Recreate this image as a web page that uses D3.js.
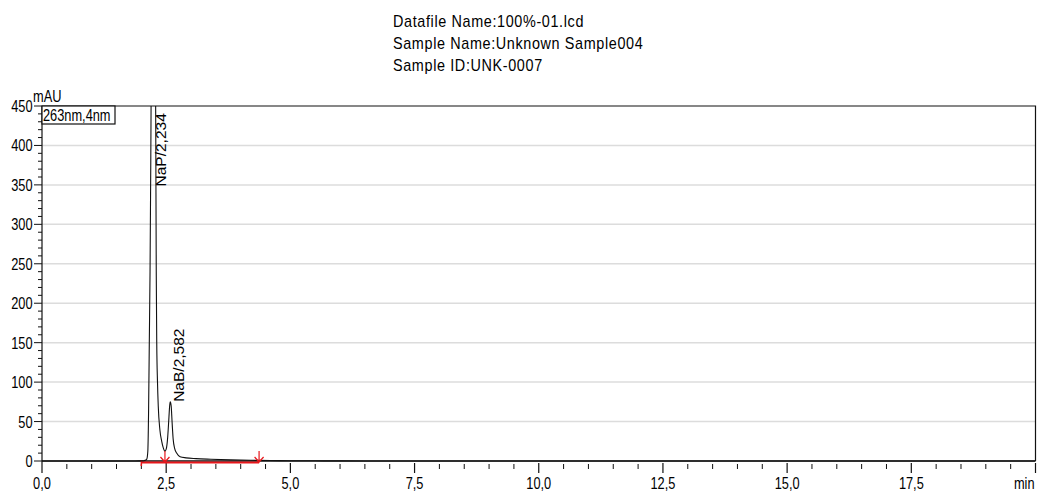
<!DOCTYPE html>
<html>
<head>
<meta charset="utf-8">
<script src="https://cdn.jsdelivr.net/npm/d3@7"></script>
<style>
  html, body { margin: 0; padding: 0; background: #fff; }
  svg { display: block; }
</style>
</head>
<body>
<svg id="chart" width="1041" height="491"></svg>
<script>
// Run header
const headerLines = [
  "Datafile Name:100%-01.lcd",
  "Sample Name:Unknown Sample004",
  "Sample ID:UNK-0007"
];
const channelLabel = "263nm,4nm";
const yUnit = "mAU";
const xUnit = "min";

// Axis ticks
const xTicks = [0, 2.5, 5, 7.5, 10, 12.5, 15, 17.5];
const xTickLabels = ["0,0", "2,5", "5,0", "7,5", "10,0", "12,5", "15,0", "17,5"];
const yTicks = [0, 50, 100, 150, 200, 250, 300, 350, 400, 450];
const yGrid = [50, 100, 150, 200, 250, 300, 350, 400];

// Detector trace (min, mAU)
const time = [0, 1.5, 1.95, 2.05, 2.09, 2.11, 2.13, 2.145, 2.16, 2.175, 2.19, 2.205, 2.234,
  2.26, 2.28, 2.29, 2.30, 2.31, 2.325, 2.34, 2.374, 2.41, 2.44, 2.475,
  2.50, 2.53, 2.555, 2.57, 2.582, 2.60, 2.62, 2.64, 2.67, 2.71, 2.78, 2.9, 3.1, 3.4,
  3.8, 4.2, 4.6, 5.0, 5.5, 6.0, 7.0, 10, 15, 20];
const absorbance = [0, 0, 0.1, 0.4, 1.2, 2.5, 12, 60, 150, 240, 380, 560, 1000,
  800, 560, 420, 240, 150, 100, 70, 39, 25, 17, 12.5,
  15, 30, 55, 70, 75, 70, 48, 28, 16, 10, 5.5, 4, 3, 2.2,
  1.4, 0.9, 0.6, 0.4, 0.25, 0.1, 0, 0, 0, 0];

// Identified peaks
const peakNames = ["NaP", "NaB"];
const peakTimes = [2.234, 2.582];
const peakLabelAt = [348, 75];

// Integration baseline and drop markers (min)
const baselineStart = 2.0;
const baselineEnd = 4.37;
const dropMarks = [2.475, 4.37];

const svg = d3.select("#chart");
const margin = { left: 42, right: 1035.5, top: 106, bottom: 461 };

const x = d3.scaleLinear().domain([0, 20]).range([margin.left, margin.right]);
const y = d3.scaleLinear().domain([0, 450]).range([margin.bottom, margin.top]);

const fmt = v => v.toFixed(3).replace(".", ",");
const font = "'Liberation Sans', Arial, sans-serif";
// Axis text is set in a condensed face: regular glyphs squeezed horizontally
const squeeze = 0.8;
const axisSize = 16;
const cond = (px, py) => `translate(${px},${py}) scale(${squeeze},1)`;

// Header
svg.append("g").selectAll("text").data(headerLines).join("text")
  .attr("transform", (d, i) => `translate(393,${27 + i * 22}) scale(0.9,1)`)
  .attr("font-family", font)
  .attr("font-size", 16)
  .attr("letter-spacing", 0.7)
  .attr("fill", "#000")
  .text(d => d);

// Grid
svg.append("g").selectAll("line").data(yGrid).join("line")
  .attr("x1", margin.left).attr("x2", margin.right)
  .attr("y1", d => y(d)).attr("y2", d => y(d))
  .attr("stroke", "#dcdcdc").attr("stroke-width", 1.5);

// Clip for trace
svg.append("clipPath").attr("id", "plot-clip")
  .append("rect")
  .attr("x", margin.left).attr("y", margin.top)
  .attr("width", margin.right - margin.left).attr("height", margin.bottom - margin.top + 1);

// Frame (top and right)
svg.append("path")
  .attr("d", `M${margin.left},${margin.top}H${margin.right}V${margin.bottom}`)
  .attr("fill", "none").attr("stroke", "#111").attr("stroke-width", 1.2);

// Y axis line and ticks
svg.append("line")
  .attr("x1", margin.left).attr("x2", margin.left)
  .attr("y1", margin.top).attr("y2", margin.bottom + 2)
  .attr("stroke", "#111").attr("stroke-width", 1.2);

const yMinor = d3.range(0, 451, 10).filter(v => v % 50 !== 0);
svg.append("g").selectAll("line").data(yMinor).join("line")
  .attr("x1", margin.left - 4).attr("x2", margin.left)
  .attr("y1", d => y(d)).attr("y2", d => y(d))
  .attr("stroke", "#111").attr("stroke-width", 1);
svg.append("g").selectAll("line").data(yTicks).join("line")
  .attr("x1", margin.left - 8).attr("x2", margin.left)
  .attr("y1", d => y(d)).attr("y2", d => y(d))
  .attr("stroke", "#111").attr("stroke-width", 1);
svg.append("g").selectAll("text").data(yTicks).join("text")
  .attr("transform", d => cond(margin.left - 9.5, y(d) + 6))
  .attr("text-anchor", "end")
  .attr("font-family", font).attr("font-size", axisSize)
  .text(d => d);

svg.append("text")
  .attr("transform", cond(33, 102))
  .attr("font-family", font).attr("font-size", axisSize)
  .text(yUnit);

// X axis line and ticks
svg.append("line")
  .attr("x1", margin.left).attr("x2", margin.right)
  .attr("y1", margin.bottom).attr("y2", margin.bottom)
  .attr("stroke", "#111").attr("stroke-width", 1.5);

const xMinor = d3.range(0, 20.01, 0.5).filter(v => Math.abs(v / 2.5 - Math.round(v / 2.5)) > 1e-6);
svg.append("g").selectAll("line").data(xMinor).join("line")
  .attr("x1", d => x(d)).attr("x2", d => x(d))
  .attr("y1", margin.bottom + 3).attr("y2", margin.bottom + 8)
  .attr("stroke", "#111").attr("stroke-width", 1);
svg.append("g").selectAll("line").data(xTicks.concat([20])).join("line")
  .attr("x1", d => x(d)).attr("x2", d => x(d))
  .attr("y1", margin.bottom + 2).attr("y2", margin.bottom + 12)
  .attr("stroke", "#111").attr("stroke-width", 1.2);
svg.append("g").selectAll("text").data(xTicks).join("text")
  .attr("transform", d => cond(x(d), 488.5))
  .attr("text-anchor", "middle")
  .attr("font-family", font).attr("font-size", axisSize)
  .text((d, i) => xTickLabels[i]);
svg.append("text")
  .attr("transform", cond(margin.right - 1, 488.5))
  .attr("text-anchor", "end")
  .attr("font-family", font).attr("font-size", axisSize)
  .text(xUnit);

// Integration baseline
svg.append("line")
  .attr("x1", x(baselineStart)).attr("x2", x(baselineEnd))
  .attr("y1", margin.bottom + 1.5).attr("y2", margin.bottom + 1.5)
  .attr("stroke", "#e8161b").attr("stroke-width", 2);
svg.append("line")
  .attr("x1", x(baselineStart)).attr("x2", x(baselineStart))
  .attr("y1", margin.bottom - 1).attr("y2", margin.bottom + 5)
  .attr("stroke", "#e8161b").attr("stroke-width", 1.5);

// Trace
const line = d3.line()
  .x((d, i) => x(time[i]))
  .y((d, i) => y(absorbance[i]))
  .curve(d3.curveMonotoneX);
svg.append("path")
  .datum(absorbance)
  .attr("clip-path", "url(#plot-clip)")
  .attr("d", line)
  .attr("fill", "none")
  .attr("stroke", "#111")
  .attr("stroke-width", 1.1);

// Drop markers (down arrows)
const arrows = svg.append("g").selectAll("g").data(dropMarks).join("g")
  .attr("transform", d => `translate(${x(d)},${margin.bottom + 1})`)
  .attr("stroke", "#e8161b").attr("stroke-width", 1.2).attr("fill", "none");
arrows.append("path").attr("d", "M0,-11V0M-4.5,-5L0,0L4.5,-5");

// Peak labels
svg.append("g").selectAll("text").data(peakNames).join("text")
  .attr("transform", (d, i) => `translate(${x(peakTimes[i]) + 13.5},${y(peakLabelAt[i])}) rotate(-90)`)
  .attr("font-family", font).attr("font-size", 15.5)
  .text((d, i) => `${d}/${fmt(peakTimes[i])}`);

// Channel box
svg.append("rect")
  .attr("x", margin.left).attr("y", margin.top)
  .attr("width", 73).attr("height", 18)
  .attr("fill", "#fff").attr("stroke", "#111").attr("stroke-width", 1.2);
svg.append("text")
  .attr("transform", cond(margin.left + 1, 120.5))
  .attr("font-family", font).attr("font-size", axisSize)
  .text(channelLabel);
</script>
</body>
</html>
